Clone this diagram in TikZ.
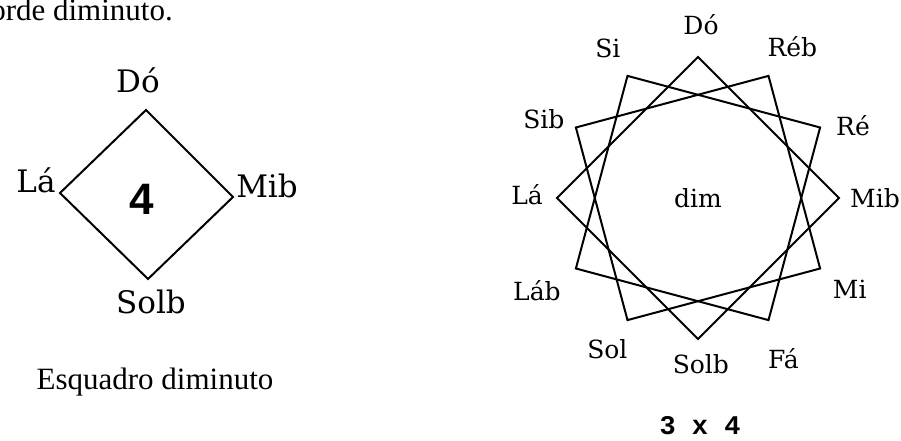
\documentclass[tikz,border=0pt]{standalone}
\usepackage{fontspec}
\setmainfont{Liberation Serif}
\newfontfamily\labelfont{DejaVu Serif}
\newfontfamily\countfont{Liberation Sans}
\newfontfamily\sizefont{Liberation Mono}
\usetikzlibrary{positioning}

\begin{document}
\begin{tikzpicture}[
    x=1pt, y=1pt,
    edge/.style={draw, line width=2pt, line join=miter},
    note/.style={font=\labelfont\fontsize{25}{30}\selectfont, inner sep=0pt},
    bignote/.style={font=\labelfont\fontsize{31}{36}\selectfont, inner sep=0pt},
    prose/.style={font=\fontsize{31}{36}\selectfont, inner sep=0pt}
]
\useasboundingbox (0,0) rectangle (901,441);

% text of the page
\node[prose, anchor=base east] (intro) at (173,420) {orde diminuto.};
\node[prose, anchor=base] (caption) at (155,51) {Esquadro diminuto};

% left: one diminished square
\coordinate (do) at (146,331);
\coordinate (mib) at (233,244);
\coordinate (solb) at (148,162);
\coordinate (la) at (60,248);
\draw[edge] (do) -- (mib) -- (solb) -- (la) -- cycle;

\node[bignote, anchor=base] (tdo) at (138,348) {Dó};
\node[bignote, anchor=base] (tla) at (36,248) {Lá};
\node[bignote, anchor=base] (tmib) at (267,243) {Mib};
\node[bignote, anchor=base] (tsolb) at (151,127) {Solb};
\node[inner sep=0pt, font=\countfont\bfseries\fontsize{44}{50}\selectfont] (four) at (142,242) {4};

% right: three squares, twelve notes
\coordinate (cr) at (698,243);
\foreach \i in {0,...,11}
    \coordinate (v\i) at ([shift={(cr)}]{90-30*\i}:141);
\foreach \a/\b/\c/\d in {0/3/6/9, 1/4/7/10, 2/5/8/11}
    \draw[edge] (v\a) -- (v\b) -- (v\c) -- (v\d) -- cycle;

\foreach \txt/\ang/\rad [count=\i from 0] in {Dó/89/173, Réb/58/178, Ré/25/171,
        Mib/0/177, Mi/-31/177, Fá/-62/182, Solb/-89/166, Sol/-121/176,
        Láb/-150/186, Lá/179/171, Sib/153/173, Si/121/175}
    \node[note] (n\i) at ([shift={(cr)}]\ang:\rad) {\txt};

\node[note] (dim) at (cr) {dim};
\node[inner sep=0pt, font=\sizefont\bfseries\fontsize{27}{32}\selectfont] (size) at (700,15) {3 x 4};
\end{tikzpicture}
\end{document}
